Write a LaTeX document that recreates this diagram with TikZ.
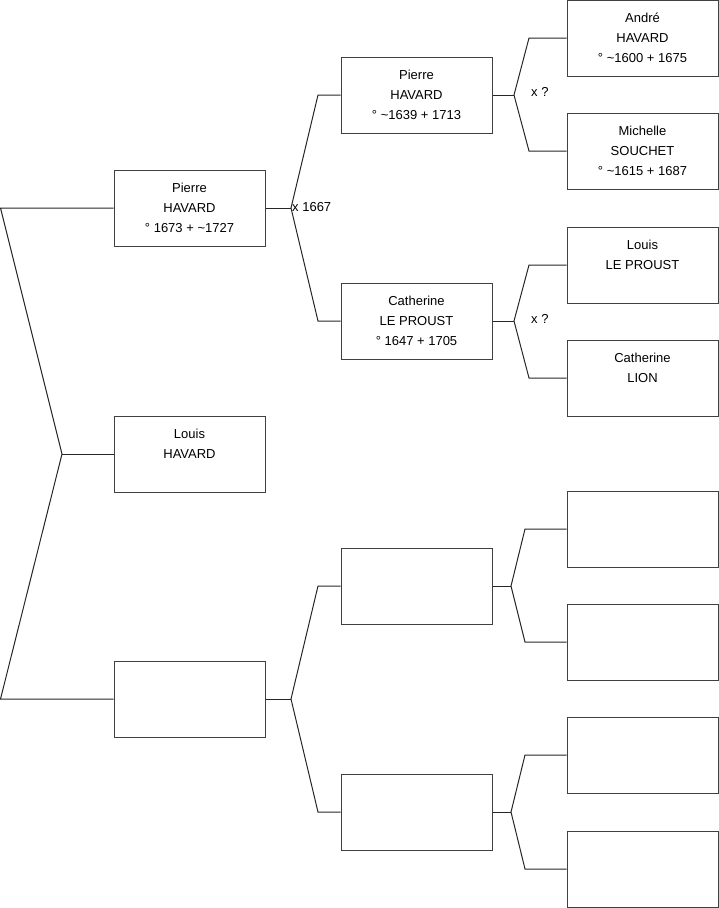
\documentclass[tikz,border=0pt]{standalone}
\usepackage{fontspec}
\setmainfont{Liberation Sans}
\newcommand{\ppl}[1]{\raisebox{2.5pt}{\begin{tabular}{@{}c@{}}#1\end{tabular}}}
\begin{document}
\begin{tikzpicture}[x=1pt,y=-1pt,
  person/.style={draw=black!75,line width=1pt,rectangle,minimum width=151pt,minimum height=76pt,inner sep=0pt,align=center,font=\fontsize{13}{20}\selectfont},
  link/.style={draw=black!85,line width=1pt},
  lbl/.style={font=\fontsize{13}{15}\selectfont,inner sep=0pt}]
\useasboundingbox (0,0) rectangle (719,908);
% column 1
\node[person] (p1) at (189.5,208) {\ppl{Pierre\\HAVARD\\° 1673 + \textasciitilde1727}};
\node[person] (p2) at (189.5,454) {\ppl{Louis\\HAVARD\\~}};
\node[person] (p3) at (189.5,699) {};
% column 2
\node[person] (q1) at (416.5,95) {\ppl{Pierre\\HAVARD\\° \textasciitilde1639 + 1713}};
\node[person] (q2) at (416.5,321) {\ppl{Catherine\\LE PROUST\\° 1647 + 1705}};
\node[person] (q3) at (416.5,586) {};
\node[person] (q4) at (416.5,812) {};
% column 3
\node[person] (r1) at (642.5,38) {\ppl{André\\HAVARD\\° \textasciitilde1600 + 1675}};
\node[person] (r2) at (642.5,151) {\ppl{Michelle\\SOUCHET\\° \textasciitilde1615 + 1687}};
\node[person] (r3) at (642.5,265) {\ppl{Louis\\LE PROUST\\~}};
\node[person] (r4) at (642.5,378) {\ppl{Catherine\\LION\\~}};
\node[person] (r5) at (642.5,529) {};
\node[person] (r6) at (642.5,642) {};
\node[person] (r7) at (642.5,755) {};
\node[person] (r8) at (642.5,869) {};
% left bracket
\coordinate (a1) at (0.5,208);
\coordinate (a2) at (0.5,699);
\coordinate (aj) at (62,454);
\draw[link] (p1.west) -- (a1) -- (aj) -- (a2) -- (p3.west);
\draw[link] (aj) -- (p2.west);
% column1 -> column2
\coordinate (b1) at (291,208);
\coordinate (b1u) at (318,95);
\coordinate (b1d) at (318,321);
\draw[link] (p1.east) -- (b1);
\draw[link] (q1.west) -- (b1u) -- (b1) -- (b1d) -- (q2.west);
\node[lbl,anchor=west] (m1) at (292,207) {x 1667};
\coordinate (b3) at (291,699);
\coordinate (b3u) at (318,586);
\coordinate (b3d) at (318,812);
\draw[link] (p3.east) -- (b3);
\draw[link] (q3.west) -- (b3u) -- (b3) -- (b3d) -- (q4.west);
% column2 -> column3
\coordinate (c1) at (514,95);
\coordinate (c1u) at (529,38);
\coordinate (c1d) at (529,151);
\draw[link] (q1.east) -- (c1);
\draw[link] (r1.west) -- (c1u) -- (c1) -- (c1d) -- (r2.west);
\node[lbl,anchor=west] (m2) at (531,92) {x ?};
\coordinate (c2) at (514,321);
\coordinate (c2u) at (529,265);
\coordinate (c2d) at (529,378);
\draw[link] (q2.east) -- (c2);
\draw[link] (r3.west) -- (c2u) -- (c2) -- (c2d) -- (r4.west);
\node[lbl,anchor=west] (m3) at (531,319) {x ?};
\coordinate (c3) at (511,586);
\coordinate (c3u) at (525,529);
\coordinate (c3d) at (525,642);
\draw[link] (q3.east) -- (c3);
\draw[link] (r5.west) -- (c3u) -- (c3) -- (c3d) -- (r6.west);
\coordinate (c4) at (511,812);
\coordinate (c4u) at (525,755);
\coordinate (c4d) at (525,869);
\draw[link] (q4.east) -- (c4);
\draw[link] (r7.west) -- (c4u) -- (c4) -- (c4d) -- (r8.west);
\end{tikzpicture}
\end{document}
